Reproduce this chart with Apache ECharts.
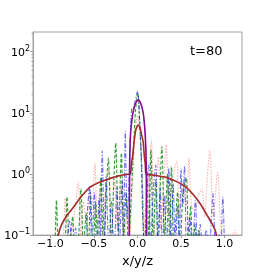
<!DOCTYPE html>
<html><head><meta charset="utf-8">
<script src="https://cdn.jsdelivr.net/npm/echarts@6/dist/echarts.min.js"></script>
<style>html,body{margin:0;padding:0;background:#fff}#c{width:270px;height:273px}</style>
</head><body><div id="c"></div>
<script>
const xTicks = [-1.0, -0.5, 0.0, 0.5, 1.0];
const yTicks = [0.1, 1, 10, 100];
const yMinorTicks = [0.2,0.3,0.4,0.5,0.6,0.7,0.8,0.9,2,3,4,5,6,7,8,9,20,30,40,50,60,70,80,90,200];
const timeLabel = 't=80';
const xName = 'x/y/z';

const redX = [-0.9,-0.86,-0.83,-0.79,-0.75,-0.72,-0.68,-0.65,-0.62,-0.585,-0.55,-0.52,-0.49,-0.46,-0.43,-0.40,-0.37,-0.33,-0.30,-0.26,-0.23,-0.19,-0.16,-0.12,-0.09,-0.06,-0.03,0.0,0.03,0.06,0.09,0.12,0.16,0.19,0.215,0.24,0.27,0.30,0.33,0.36,0.40,0.45,0.48,0.52,0.56,0.59,0.62,0.66,0.70,0.74,0.77,0.80,0.83,0.87,0.92,0.96,1.0,1.05,1.08,1.12,1.16];
const redY = [0.05,0.06,0.4,0.08,0.12,0.25,0.73,0.1,0.35,0.15,0.5,0.3,1.5,0.15,0.6,0.1,0.5,1.2,0.1,0.8,0.12,0.6,0.08,0.2,0.1,0.6,4,9,4,0.6,0.1,0.5,3.5,0.1,0.8,1.9,0.12,0.7,3.0,0.2,0.8,1.6,0.2,0.7,0.3,1.8,0.3,0.25,0.45,0.57,0.2,0.8,2.4,0.2,1.05,0.1,0.05,0.05,0.09,0.12,0.05];

const greenX = [-1.0,-0.955,-0.93,-0.90,-0.84,-0.81,-0.78,-0.745,-0.72,-0.68,-0.65,-0.62,-0.59,-0.565,-0.54,-0.51,-0.48,-0.455,-0.42,-0.39,-0.335,-0.30,-0.275,-0.25,-0.22,-0.185,-0.16,-0.13,-0.105,-0.07,-0.04,-0.02,0.005,0.02,0.04,0.06,0.08,0.11,0.13,0.155,0.18,0.21,0.235,0.28,0.31,0.345,0.37,0.39,0.42,0.46,0.49,0.52,0.56,0.585,0.61,0.635,0.66,0.68,0.70,0.73];
const greenY = [0.03,0.05,0.37,0.05,0.06,0.42,0.06,0.2,0.05,0.08,0.57,0.06,0.23,0.05,0.5,0.05,0.35,0.05,0.9,0.06,1.8,0.07,0.6,3.2,0.1,2.2,0.08,0.5,0.06,0.5,4,12,21,10,2.5,0.2,0.06,0.9,0.08,2.5,0.07,0.8,0.06,2.8,0.1,1.0,0.07,1.3,0.06,0.5,0.05,0.45,0.87,0.05,0.3,0.05,0.15,0.05,0.12,0.03];

const blueX = [-0.82,-0.78,-0.75,-0.71,-0.68,-0.6,-0.575,-0.55,-0.525,-0.495,-0.47,-0.44,-0.425,-0.405,-0.38,-0.36,-0.33,-0.3,-0.27,-0.235,-0.21,-0.175,-0.16,-0.14,-0.12,-0.1,-0.08,-0.066,-0.05,-0.03,-0.01,0.0,0.015,0.03,0.05,0.07,0.09,0.11,0.128,0.15,0.18,0.21,0.235,0.26,0.285,0.31,0.335,0.36,0.385,0.41,0.435,0.46,0.48,0.50,0.52,0.54,0.565,0.6,0.63,0.665,0.69,0.72,0.75,0.79,0.82,0.867,0.9,0.94,0.955,0.98,1.0];
const blueY = [0.05,0.17,0.05,0.13,0.05,0.05,0.25,0.65,0.05,0.5,0.06,0.4,0.08,2.4,0.08,0.9,0.06,0.35,0.05,0.6,0.06,0.8,0.1,5.0,0.2,0.6,5,11.8,12,15,20,23,14,5,1.2,0.1,0.05,0.8,1.4,0.06,0.5,1.4,0.07,0.6,0.05,0.45,0.06,1.26,0.06,0.7,0.05,0.3,0.06,1.2,0.3,1.34,0.05,0.2,0.05,0.37,0.05,0.15,0.05,0.12,0.05,0.48,0.05,0.1,0.05,0.42,0.05];

const brownX = [-0.94,-0.91,-0.87,-0.82,-0.74,-0.65,-0.55,-0.45,-0.34,-0.22,-0.11,-0.08,-0.07,-0.055,-0.04,-0.02,0.0,0.01,0.03,0.05,0.066,0.078,0.09,0.097,0.2,0.33,0.45,0.55,0.64,0.73,0.8,0.86,0.9,0.93];
const brownY = [0.05,0.1,0.15,0.2,0.28,0.42,0.6,0.72,0.82,0.93,0.99,1.0,1.5,2.0,3.3,5.2,6.2,6.3,5.6,4.2,3.3,2.0,1.4,1.0,0.95,0.88,0.75,0.62,0.46,0.31,0.21,0.15,0.11,0.05];

const purpleX = [-0.1,-0.095,-0.09,-0.08,-0.06,-0.04,-0.02,0.0,0.01,0.03,0.05,0.07,0.09,0.1,0.105,0.11];
const purpleY = [0.05,0.1,1.5,4.5,8.5,12,14.5,16,16.3,15,12.5,9,4,1.5,0.1,0.05];

function zip(xs, ys) { const n = Math.min(xs.length, ys.length); const out = []; for (let i = 0; i < n; i++) out.push([xs[i], ys[i]]); return out; }
const FONT = 'DejaVu Sans';
const AX = '#a0a0a0';
function fmtNum(v) { const s = Math.abs(v).toFixed(1); return (v < -1e-9 ? '\u2212' : '') + s; }
function fmtLog(v) { const e = Math.round(Math.log10(v)); return '{b|10}{s|' + (e < 0 ? '\u2212' + (-e) : e) + '}'; }

const chart = echarts.init(document.getElementById('c'), null, {renderer: 'canvas'});
chart.setOption({
  animation: false,
  backgroundColor: '#fff',
  grid: {left: 33, right: 28, top: 32, bottom: 30, show: true, borderColor: AX, borderWidth: 1, backgroundColor: 'transparent'},
  xAxis: {
    type: 'value', min: -1.2, max: 1.2,
    name: xName, nameLocation: 'middle', nameGap: 12,
    nameTextStyle: {fontFamily: FONT, fontSize: 13, color: '#000'},
    axisLine: {show: true, onZero: false, lineStyle: {color: AX, width: 1}},
    axisTick: {show: true, customValues: xTicks, length: 3, lineStyle: {color: AX}},
    axisLabel: {customValues: xTicks, formatter: fmtNum, fontFamily: FONT, fontSize: 11, color: '#000', margin: 4},
    splitLine: {show: false}
  },
  yAxis: [{
    type: 'log', logBase: 10, min: 0.1, max: 210,
    axisLine: {show: true, onZero: false, lineStyle: {color: AX, width: 1}},
    axisTick: {show: true, customValues: yTicks, length: 3, lineStyle: {color: AX}},
    axisLabel: {customValues: yTicks, formatter: fmtLog, margin: 3, color: '#000',
      rich: {b: {fontFamily: FONT, fontSize: 11, lineHeight: 14, verticalAlign: 'bottom', color: '#000'},
             s: {fontFamily: FONT, fontSize: 8, lineHeight: 8, verticalAlign: 'top', color: '#000'}}},
    splitLine: {show: false}
  }, {
    type: 'log', logBase: 10, min: 0.1, max: 210, position: 'left',
    axisLine: {show: false, onZero: false},
    axisTick: {show: true, customValues: yMinorTicks, length: 1.5, lineStyle: {color: AX}},
    axisLabel: {show: false},
    splitLine: {show: false}
  }],
  graphic: [{type: 'text', left: 190, top: 45, style: {text: timeLabel, font: '13px "DejaVu Sans"', fill: '#000'}}],
  series: [
    {type: 'line', data: zip(redX, redY), showSymbol: false, smooth: 0.3, clip: true, z: 2,
     lineStyle: {color: '#ff3333', width: 1.1, opacity: 0.4, type: [1.5, 1.5]}},
    {type: 'line', data: zip(greenX, greenY), showSymbol: false, smooth: 0.3, clip: true, z: 3,
     lineStyle: {color: '#138a13', width: 1.1, opacity: 0.85, type: [3.5, 1.8]}},
    {type: 'line', data: zip(blueX, blueY), showSymbol: false, smooth: 0.3, clip: true, z: 4,
     lineStyle: {color: '#2020f0', width: 1.1, opacity: 0.65, type: [5, 1.8, 1.2, 1.8]}},
    {type: 'line', data: zip(brownX, brownY), showSymbol: false, smooth: 0.15, clip: true, z: 5,
     lineStyle: {color: '#a52a2a', width: 1.6}},
    {type: 'line', data: zip(purpleX, purpleY), showSymbol: false, smooth: 0.2, clip: true, z: 6,
     lineStyle: {color: '#850a95', width: 1.6}}
  ]
});
</script>
</body></html>
